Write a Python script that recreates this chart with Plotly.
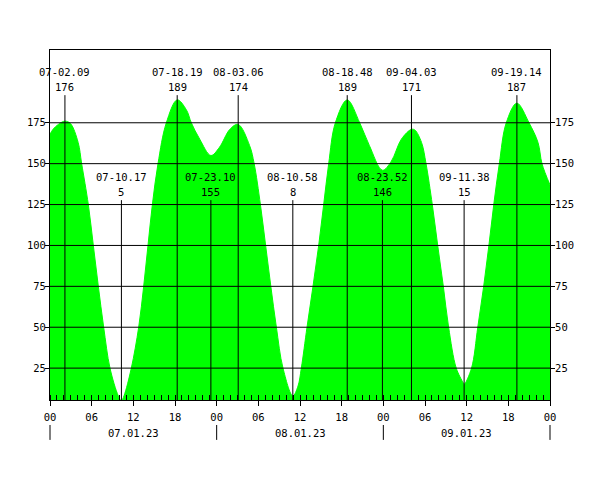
import plotly.graph_objects as go

# ---- data ----
tide_hours = [0.0, 0.44, 1.2, 2.15, 2.95, 4.05, 4.56, 5.52, 6.24, 6.96, 7.73, 8.64, 9.84, 10.28, 10.65,
              11.71, 12.77, 13.49, 14.11, 14.74, 15.55, 16.75, 18.32, 19.63, 20.35, 21.56, 23.17,
              24.4, 25.9, 27.1, 28.75, 29.4, 30.3, 31.05, 31.8, 32.6, 33.55, 34.97, 35.71,
              36.19, 37.01, 37.87, 38.69, 39.41, 40.13, 41.09, 42.8, 44.6, 46.0, 47.87, 49.15,
              50.6, 52.05, 52.56, 53.5, 54.15, 55.05, 55.83, 56.64, 57.4, 58.5, 59.5, 59.63,
              60.7, 61.6, 62.45, 63.2, 63.9, 64.7, 65.7, 67.23, 68.98, 70.27, 70.85, 72.0]
tide_values = [168, 171, 174, 176, 174.5, 163, 150, 125, 100, 75, 50, 25, 8, 5, 8,
               25, 50, 75, 100, 125, 150, 175, 189, 183, 175, 165, 155,
               160, 171, 174, 161, 150, 125, 100, 75, 50, 25, 8, 14,
               25, 50, 75, 100, 125, 150, 175, 189, 175, 161, 146, 151.5,
               165, 171, 170.5, 163, 150, 125, 100, 75, 50, 25, 16, 15,
               25, 50, 75, 100, 125, 150, 175, 187, 175, 163, 150, 137]

ext_labels = ["07-02.09", "07-10.17", "07-18.19", "07-23.10", "08-03.06", "08-10.58",
              "08-18.48", "08-23.52", "09-04.03", "09-11.38", "09-19.14"]
ext_values = [176, 5, 189, 155, 174, 8, 189, 146, 171, 15, 187]
ext_kinds = ["high", "low", "high", "low", "high", "low", "high", "low", "high", "low", "high"]

x_tick_hours = [0, 6, 12, 18, 24, 30, 36, 42, 48, 54, 60, 66, 72]
x_tick_text = ["00", "06", "12", "18", "00", "06", "12", "18", "00", "06", "12", "18", "00"]
day_labels = ["07.01.23", "08.01.23", "09.01.23"]
y_ticks = [25, 50, 75, 100, 125, 150, 175]

X_RANGE = [0, 72]
Y_RANGE = [5.5, 219.5]
FONT = "DejaVu Sans Mono"
FS = 10.5


def ext_hour(lbl):
    day = int(lbl[:2])
    hh = int(lbl[3:5])
    mm = int(lbl[6:8])
    return (day - 7) * 24 + hh + mm / 60.0


ext_hours = [ext_hour(l) for l in ext_labels]

fig = go.Figure()
fig.add_trace(go.Scatter(
    x=tide_hours, y=tide_values, mode="lines", fill="tozeroy",
    fillcolor="#00ff00", line=dict(color="#00ff00", width=1, shape="spline", smoothing=1.0),
    hoverinfo="skip", showlegend=False))
fig.add_trace(go.Scatter(
    x=tide_hours, y=tide_values, yaxis="y2", mode="lines", opacity=0,
    line=dict(width=0), hoverinfo="skip", showlegend=False))

shapes = []
# horizontal grid lines above the fill
for v in y_ticks:
    shapes.append(dict(type="line", xref="paper", yref="y", x0=0, x1=1, y0=v, y1=v,
                       line=dict(color="black", width=1), layer="above"))
annotations = []
for h, lbl, val, kind in zip(ext_hours, ext_labels, ext_values, ext_kinds):
    if kind == "high":
        top, ya, yb = 0.871, 0.938, 0.895
    else:
        top, ya, yb = 0.571, 0.638, 0.595
    shapes.append(dict(type="line", xref="x", yref="paper", x0=h, x1=h, y0=0, y1=top,
                       line=dict(color="black", width=1), layer="above"))
    annotations.append(dict(x=h, y=ya, xref="x", yref="paper", text=lbl, showarrow=False,
                            font=dict(family=FONT, size=FS, color="black"),
                            xanchor="center", yanchor="middle"))
    annotations.append(dict(x=h, y=yb, xref="x", yref="paper", text=str(val), showarrow=False,
                            font=dict(family=FONT, size=FS, color="black"),
                            xanchor="center", yanchor="middle"))

# day labels and separators below the axis
span = X_RANGE[1] - X_RANGE[0]
for i, d in enumerate(day_labels):
    annotations.append(dict(x=(i * 24 + 12 - X_RANGE[0]) / span, y=-0.094, xref="paper", yref="paper",
                            text=d, showarrow=False,
                            font=dict(family=FONT, size=FS, color="black"),
                            xanchor="center", yanchor="middle"))
for i in range(len(day_labels) + 1):
    xp = (i * 24 - X_RANGE[0]) / span
    shapes.append(dict(type="line", xref="paper", yref="paper", x0=xp, x1=xp, y0=-0.0714, y1=-0.114,
                       line=dict(color="black", width=1)))

fig.update_layout(
    width=600, height=500,
    margin=dict(l=50, r=50, t=50, b=100),
    paper_bgcolor="white", plot_bgcolor="white",
    font=dict(family=FONT, size=FS, color="black"),
    shapes=shapes, annotations=annotations,
    xaxis=dict(range=X_RANGE, tickvals=x_tick_hours, ticktext=x_tick_text,
               ticks="outside", ticklen=5, tickcolor="black", showgrid=False, zeroline=False,
               showline=True, linecolor="black", linewidth=1, mirror=True, layer="above traces",
               ticklabelstandoff=2,
               minor=dict(dtick=1, ticks="inside", ticklen=5, tickcolor="black", showgrid=False),
               tickfont=dict(family=FONT, size=FS, color="black")),
    yaxis=dict(range=Y_RANGE, tickvals=y_ticks, ticks="outside", ticklen=4, tickcolor="black",
               showgrid=False, zeroline=False, showline=True, linecolor="black", linewidth=1,
               mirror=True, layer="above traces", ticklabelstandoff=-3,
               tickfont=dict(family=FONT, size=FS, color="black")),
    yaxis2=dict(range=Y_RANGE, tickvals=y_ticks, overlaying="y", side="right", ticks="outside",
                ticklen=4, tickcolor="black", showgrid=False, zeroline=False, showline=False,
                ticklabelstandoff=-2,
                tickfont=dict(family=FONT, size=FS, color="black")),
    hovermode=False,
)

fig.write_html("out.html")
